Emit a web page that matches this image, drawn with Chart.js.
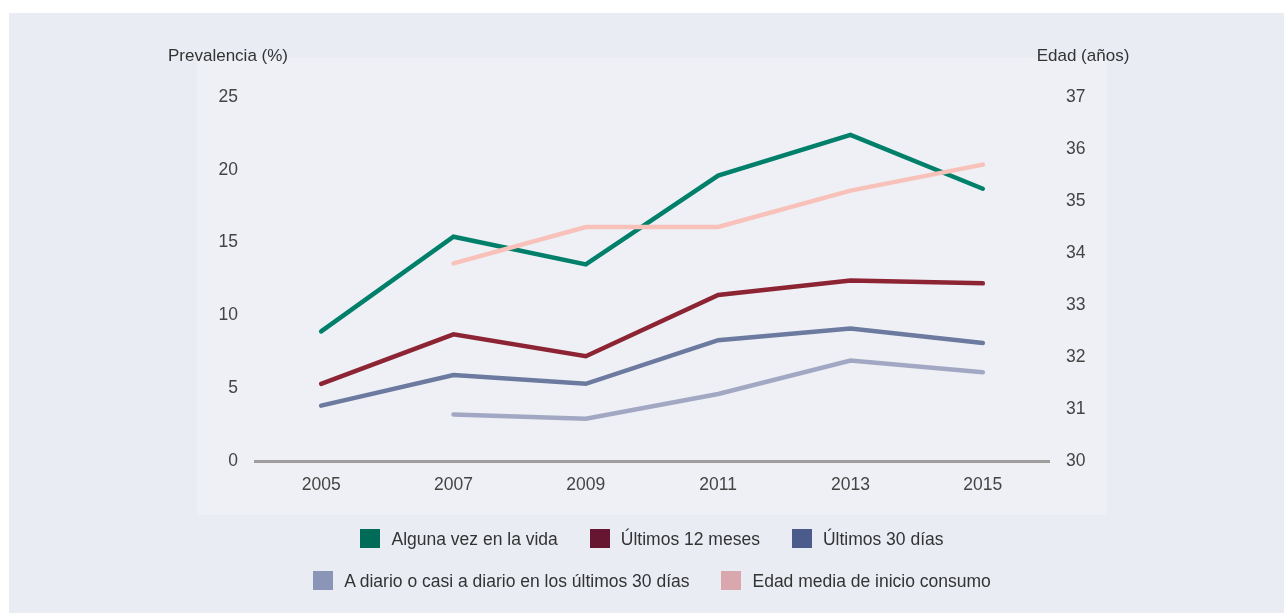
<!DOCTYPE html>
<html>
<head>
<meta charset="utf-8">
<script src="https://cdn.jsdelivr.net/npm/chart.js@4"></script>
<style>
	body { margin: 0; background: #ffffff; font-family: "Liberation Sans", Arial, sans-serif; }
	#outer { position: absolute; left: 9px; top: 13px; width: 1275px; height: 600px; background: #e9ecf3; }
	#inner { position: absolute; left: 197px; top: 58px; width: 910px; height: 457px; background: #eef0f5; }
	#wrap { position: absolute; left: 0; top: 0; width: 1284px; height: 613px; }
	#legend { position: absolute; left: 197px; top: 528px; width: 910px; font-size: 17.5px; color: #333333; }
	.row { display: flex; justify-content: center; height: 42px; }
	.item { display: flex; align-items: flex-start; margin: 0 16px; }
	.box { width: 20px; height: 19px; margin-right: 11px; margin-top: 1px; }
	.item span { line-height: 22px; }
</style>
</head>
<body>
<div id="outer"></div>
<div id="inner"></div>
<div id="wrap"><canvas id="drugChart" width="1284" height="613"></canvas></div>
<div id="legend"></div>
<script>
const years = ["2005", "2007", "2009", "2011", "2013", "2015"];

const algunaVez = [8.9, 15.4, 13.5, 19.6, 22.4, 18.7];
const ultimos12 = [5.3, 8.7, 7.2, 11.4, 12.4, 12.2];
const ultimos30 = [3.8, 5.9, 5.3, 8.3, 9.1, 8.1];
const aDiario = [null, 3.2, 2.9, 4.6, 6.9, 6.1];
const edadMedia = [null, 33.8, 34.5, 34.5, 35.2, 35.7];

const seriesNames = [
	"Alguna vez en la vida",
	"Últimos 12 meses",
	"Últimos 30 días",
	"A diario o casi a diario en los últimos 30 días",
	"Edad media de inicio consumo",
];
const lineColours = ["#00806b", "#8c2433", "#6c7aa0", "#a2a8c4", "#f8c1ba"];
const legendColours = ["#006b56", "#671632", "#4b5b8c", "#8b95b8", "#d9a7ae"];
const legendRows = [[0, 1, 2], [3, 4]];

const font = { family: "'Liberation Sans', Arial, sans-serif", size: 17.5 };
const textColour = "#444444";

function makeLine(i, data, axis, order) {
	return {
		label: seriesNames[i],
		data: data,
		yAxisID: axis,
		borderColor: lineColours[i],
		borderWidth: 4.5,
		borderCapStyle: "round",
		borderJoinStyle: "miter",
		pointRadius: 0,
		tension: 0,
		order: order,
	};
}

// axis titles sit outside the chart area, horizontal
const axisTitles = {
	id: "axisTitles",
	afterDraw(chart) {
		const c = chart.ctx;
		c.save();
		c.font = "17px " + font.family;
		c.fillStyle = "#333333";
		c.textBaseline = "middle";
		c.textAlign = "center";
		c.fillText("Prevalencia (%)", 228, 56);
		c.fillText("Edad (años)", 1083, 56);
		c.restore();
	},
};

const ctx = document.getElementById("drugChart");
const config = {
	type: "line",
	data: {
		labels: years,
		datasets: [
			makeLine(0, algunaVez, "y", 1),
			makeLine(1, ultimos12, "y", 2),
			makeLine(2, ultimos30, "y", 3),
			makeLine(3, aDiario, "y", 4),
			makeLine(4, edadMedia, "y1", 0),
		],
	},
	options: {
		responsive: false,
		animation: false,
		layout: { padding: { left: 195, right: 175, top: 97, bottom: 112 } },
		plugins: { legend: { display: false }, tooltip: { enabled: false } },
		scales: {
			x: {
				offset: true,
				grid: { display: false, drawTicks: false },
				border: { display: true, color: "#a09d9d", width: 3 },
				ticks: { color: textColour, font: font, padding: 14 },
				afterFit(scale) { scale.height = 40; },
			},
			y: {
				position: "left",
				min: 0,
				max: 25,
				grid: { display: false, drawTicks: false },
				border: { display: false },
				ticks: { stepSize: 5, color: textColour, font: font, padding: 17 },
				afterFit(scale) { scale.width = 60; },
			},
			y1: {
				position: "right",
				min: 30,
				max: 37,
				grid: { display: false, drawTicks: false },
				border: { display: false },
				ticks: { stepSize: 1, color: textColour, font: font, padding: 17 },
				afterFit(scale) { scale.width = 60; },
			},
		},
	},
	plugins: [axisTitles],
};
const chart = new Chart(ctx, config);

// legend in two rows like the original
const legendEl = document.getElementById("legend");
legendRows.forEach((row) => {
	const rowEl = document.createElement("div");
	rowEl.className = "row";
	row.forEach((i) => {
		const item = document.createElement("div");
		item.className = "item";
		const box = document.createElement("div");
		box.className = "box";
		box.style.background = legendColours[i];
		const text = document.createElement("span");
		text.textContent = seriesNames[i];
		item.appendChild(box);
		item.appendChild(text);
		rowEl.appendChild(item);
	});
	legendEl.appendChild(rowEl);
});
</script>
</body>
</html>
